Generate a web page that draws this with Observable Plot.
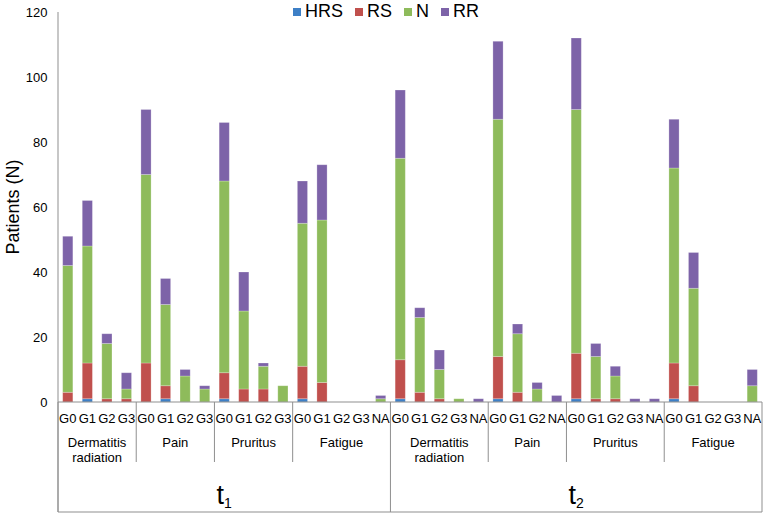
<!DOCTYPE html>
<html>
<head>
<meta charset="utf-8">
<script src="https://cdn.jsdelivr.net/npm/d3@7"></script>
<script src="https://cdn.jsdelivr.net/npm/@observablehq/plot@0.6"></script>
<style>
  body { margin: 0; background: #fff; font-family: "Liberation Sans", Arial, sans-serif; }
  #wrap { position: relative; width: 765px; height: 515px; }
  #legend { position: absolute; top: 1px; left: 293px; display: flex; font-size: 18px; line-height: 20px; color: #000; }
  #legend .item { display: flex; align-items: center; margin-right: 12px; }
  #legend .sw { width: 8px; height: 8px; margin-right: 4px; margin-top: 1px; }
</style>
</head>
<body>
<div id="wrap"><div id="legend"></div></div>
<script>
// ---- Data ----
const seriesNames = ["HRS", "RS", "N", "RR"];
const seriesColors = ["#3D7FC6", "#C0504D", "#8EBB5B", "#7D63A8"];
const timeLabels = ["1", "2"]; // subscripts of t
const symptomLabels = ["Dermatitis radiation", "Pain", "Pruritus", "Fatigue"];
// grades per (time, symptom) group, in order
const groupGrades = [
  ["G0", "G1", "G2", "G3"],
  ["G0", "G1", "G2", "G3"],
  ["G0", "G1", "G2", "G3"],
  ["G0", "G1", "G2", "G3", "NA"],
  ["G0", "G1", "G2", "G3", "NA"],
  ["G0", "G1", "G2", "NA"],
  ["G0", "G1", "G2", "G3", "NA"],
  ["G0", "G1", "G2", "G3", "NA"]
];
const HRS = [0,1,0,0, 0,1,0,0, 1,0,0,0, 1,0,0,0,0, 1,0,0,0,0, 1,0,0,0, 1,0,0,0,0, 1,0,0,0,0];
const RS  = [3,11,1,1, 12,4,0,0, 8,4,4,0, 10,6,0,0,0, 12,3,1,0,0, 13,3,0,0, 14,1,1,0,0, 11,5,0,0,0];
const N   = [39,36,17,3, 58,25,8,4, 59,24,7,5, 44,50,0,0,1, 62,23,9,1,0, 73,18,4,0, 75,13,7,0,0, 60,30,0,0,5];
const RR  = [9,14,3,5, 20,8,2,1, 18,12,1,0, 13,17,0,0,1, 21,3,6,0,1, 24,3,2,2, 22,4,3,1,1, 15,11,0,0,5];
const yTicks = [0, 20, 40, 60, 80, 100, 120];
const yLabel = "Patients (N)";

// ---- Build tidy table ----
const bars = [];
groupGrades.forEach((grades, g) => {
  const time = Math.floor(g / 4), symptom = g % 4;
  grades.forEach(grade => bars.push({key: `${time}|${symptom}|${grade}`, time, symptom, grade, group: g}));
});
const seriesValues = [HRS, RS, N, RR];
const data = [];
bars.forEach((b, i) => seriesNames.forEach((s, k) => data.push({key: b.key, series: s, value: seriesValues[k][i]})));
const keys = bars.map(b => b.key);

// ---- Legend (HTML, above the SVG area) ----
const legend = document.getElementById("legend");
seriesNames.forEach((s, k) => {
  const it = document.createElement("div");
  it.className = "item";
  it.innerHTML = `<div class="sw" style="background:${seriesColors[k]}"></div><span>${s}</span>`;
  legend.appendChild(it);
});

// ---- Hierarchical category axis (uses the plot's scales) ----
function categoryAxis(index, scales, values, dims) {
  const x = scales.x, y = scales.y;
  const step = x(keys[1]) - x(keys[0]);
  const bw = typeof x.bandwidth === "function" ? x.bandwidth() : step * 0.52;
  const left = x(keys[0]) - (step - bw) / 2;
  const edge = i => left + i * step;
  const base = y(0);
  const bottom = dims.height - 3;
  const axisColor = "#8f8f8f";
  const g = d3.create("svg:g").attr("font-family", '"Liberation Sans", Arial, sans-serif').attr("fill", "#000");
  // y axis line and baseline
  g.append("line").attr("x1", edge(0)).attr("x2", edge(0)).attr("y1", y(yTicks[yTicks.length - 1])).attr("y2", bottom).attr("stroke", axisColor);
  g.append("line").attr("x1", edge(0)).attr("x2", edge(keys.length)).attr("y1", base).attr("y2", base).attr("stroke", axisColor);
  g.append("line").attr("x1", edge(0)).attr("x2", edge(keys.length)).attr("y1", bottom).attr("y2", bottom).attr("stroke", axisColor);
  // grade labels
  bars.forEach((b, i) => {
    g.append("text").attr("x", x(b.key) + bw / 2).attr("y", base + 21).attr("text-anchor", "middle")
      .attr("font-size", 13).text(b.grade);
  });
  // symptom groups
  let start = 0;
  const timeStarts = [];
  groupGrades.forEach((grades, gi) => {
    const end = start + grades.length;
    if (gi % 4 === 0) timeStarts.push(start);
    if (gi % 4 !== 0) g.append("line").attr("x1", edge(start)).attr("x2", edge(start)).attr("y1", base).attr("y2", base + 60).attr("stroke", axisColor);
    const cx = (edge(start) + edge(end)) / 2;
    const words = symptomLabels[gi % 4].split(" ");
    const t = g.append("text").attr("text-anchor", "middle").attr("font-size", 13);
    words.forEach((w, wi) => t.append("tspan").attr("x", cx).attr("y", base + 45 + wi * 15).text(w));
    start = end;
  });
  timeStarts.push(keys.length);
  // time groups
  for (let ti = 0; ti < timeLabels.length; ti++) {
    const a = edge(timeStarts[ti]), b = edge(timeStarts[ti + 1]);
    g.append("line").attr("x1", a).attr("x2", a).attr("y1", base).attr("y2", bottom).attr("stroke", axisColor);
    const t = g.append("text").attr("x", (a + b) / 2).attr("y", base + 102).attr("text-anchor", "middle").attr("font-size", 27);
    t.append("tspan").text("t");
    t.append("tspan").attr("font-size", 14).attr("dy", 4).text(timeLabels[ti]);
  }
  const r = edge(keys.length);
  g.append("line").attr("x1", r).attr("x2", r).attr("y1", base).attr("y2", bottom).attr("stroke", axisColor);
  // y label
  g.append("text").attr("transform", `translate(18.5,${(y(0) + y(yTicks[yTicks.length - 1])) / 2}) rotate(-90)`)
    .attr("text-anchor", "middle").attr("font-size", 18).text(yLabel);
  return g.node();
}

const chart = Plot.plot({
  width: 765,
  height: 515,
  marginLeft: 58,
  marginRight: 3,
  marginTop: 12,
  marginBottom: 113,
  style: {fontFamily: '"Liberation Sans", Arial, sans-serif', background: "transparent"},
  x: {type: "band", domain: keys, paddingInner: 0.48, paddingOuter: 0.24, round: false, axis: null},
  y: {domain: [0, 120], axis: null},
  color: {domain: seriesNames, range: seriesColors},
  marks: [
    Plot.barY(data, {x: "key", y: "value", fill: "series", stroke: "#fff", strokeOpacity: 0.3, strokeWidth: 0.8}),
    Plot.axisY({ticks: yTicks, tickSize: 0, tickPadding: 11, fontSize: 13, label: null, fill: "#000"}),
    categoryAxis
  ]
});
document.getElementById("wrap").prepend(chart);
chart.style.position = "absolute";
chart.style.left = "0";
chart.style.top = "0";
document.getElementById("legend").style.zIndex = 2;
</script>
</body>
</html>
